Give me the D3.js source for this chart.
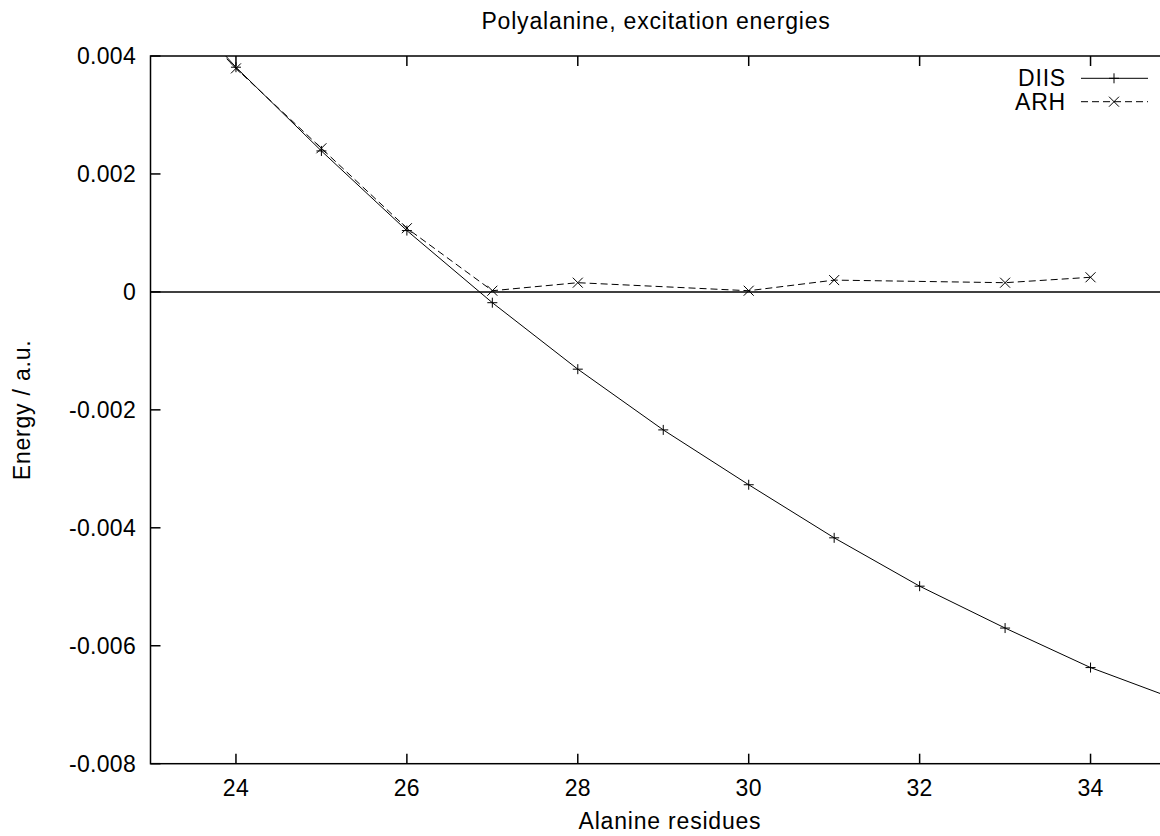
<!DOCTYPE html>
<html>
<head>
<meta charset="utf-8">
<script src="https://cdn.jsdelivr.net/npm/d3@7"></script>
<style>
  html, body { margin: 0; padding: 0; background: #fff; }
  svg { display: block; font-family: "Liberation Sans", Arial, sans-serif; }
  .word { letter-spacing: 0.8px; }
  .num { letter-spacing: 0.3px; }
</style>
</head>
<body>
<div id="chart"></div>
<script>
// Data
const diisResidues = [23, 24, 25, 26, 27, 28, 29, 30, 31, 32, 33, 34, 35];
const diisEnergy = [0.0054, 0.00381, 0.00239, 0.00104, -0.000183, -0.00131, -0.00234, -0.00327, -0.00417, -0.00499, -0.0057, -0.00637, -0.00691];

const arhResidues = [23, 24, 25, 26, 27, 28, 30, 31, 33, 34];
const arhEnergy = [0.0053, 0.00379, 0.002435, 0.00108, 0.00002, 0.000156, 0.00002, 0.0002, 0.000156, 0.000248];

const xTicks = [24, 26, 28, 30, 32, 34];
const yTicks = [0.004, 0.002, 0, -0.002, -0.004, -0.006, -0.008];
const yTickLabels = ["0.004", "0.002", "0", "-0.002", "-0.004", "-0.006", "-0.008"];

const width = 1160;
const height = 836;
const plotLeft = 150.5, plotRight = 1176, plotTop = 56, plotBottom = 763.7;
const tickLen = 10;
const fontSize = 23;

const svg = d3.select("#chart").append("svg").attr("width", width).attr("height", height);

const x = d3.scaleLinear().domain([23, 35]).range([plotLeft, plotRight]);
const y = d3.scaleLinear().domain([-0.008, 0.004]).range([plotBottom, plotTop]);

svg.append("clipPath").attr("id", "plot-clip")
  .append("rect").attr("x", plotLeft).attr("y", plotTop)
  .attr("width", plotRight - plotLeft).attr("height", plotBottom - plotTop);

// Title and axis labels
svg.append("text").attr("class", "word")
  .attr("x", 656).attr("y", 28.5)
  .attr("text-anchor", "middle").attr("font-size", fontSize)
  .text("Polyalanine, excitation energies");

svg.append("text").attr("class", "word")
  .attr("x", 670).attr("y", 829)
  .attr("text-anchor", "middle").attr("font-size", fontSize)
  .text("Alanine residues");

svg.append("text").attr("class", "word")
  .attr("transform", `translate(30,${(plotTop + plotBottom) / 2}) rotate(-90)`)
  .attr("text-anchor", "middle").attr("font-size", fontSize)
  .text("Energy / a.u.");

// Tick labels
svg.append("g").selectAll("text").data(xTicks).join("text").attr("class", "num")
  .attr("x", (d) => x(d)).attr("y", 796)
  .attr("text-anchor", "middle").attr("font-size", fontSize)
  .text((d) => d);

svg.append("g").selectAll("text").data(yTicks).join("text").attr("class", "num")
  .attr("x", 136).attr("y", (d) => y(d) + 8)
  .attr("text-anchor", "end").attr("font-size", fontSize)
  .text((d, i) => yTickLabels[i]);

// Ticks (inward, mirrored on top)
const ticks = svg.append("g").attr("stroke", "#000").attr("stroke-width", 1.5);
ticks.selectAll(".xb").data(xTicks).join("line")
  .attr("x1", (d) => x(d)).attr("x2", (d) => x(d))
  .attr("y1", plotBottom).attr("y2", plotBottom - tickLen);
ticks.selectAll(".xt").data(xTicks).join("line")
  .attr("x1", (d) => x(d)).attr("x2", (d) => x(d))
  .attr("y1", plotTop).attr("y2", plotTop + tickLen);
ticks.selectAll(".yl").data(yTicks).join("line")
  .attr("x1", plotLeft).attr("x2", plotLeft + tickLen)
  .attr("y1", (d) => y(d)).attr("y2", (d) => y(d));

// Zero axis
svg.append("line")
  .attr("x1", plotLeft).attr("x2", plotRight)
  .attr("y1", y(0)).attr("y2", y(0))
  .attr("stroke", "#000").attr("stroke-width", 1.5);

// Border
svg.append("rect")
  .attr("x", plotLeft).attr("y", plotTop)
  .attr("width", plotRight - plotLeft).attr("height", plotBottom - plotTop)
  .attr("fill", "none").attr("stroke", "#000").attr("stroke-width", 1.5);

const plot = svg.append("g").attr("clip-path", "url(#plot-clip)");

const line = d3.line().x((d) => x(d[0])).y((d) => y(d[1]));
const diis = diisResidues.map((r, i) => [r, diisEnergy[i]]);
const arh = arhResidues.map((r, i) => [r, arhEnergy[i]]);

plot.append("path").datum(diis).attr("d", line)
  .attr("fill", "none").attr("stroke", "#000").attr("stroke-width", 1);
plot.append("path").datum(arh).attr("d", line)
  .attr("fill", "none").attr("stroke", "#000").attr("stroke-width", 1)
  .attr("stroke-dasharray", "7,4");

const ms = 5;
function plus(g, cx, cy) {
  g.append("path").attr("d", `M${cx - ms},${cy}H${cx + ms}M${cx},${cy - ms}V${cy + ms}`)
    .attr("stroke", "#000").attr("stroke-width", 1).attr("fill", "none");
}
function cross(g, cx, cy) {
  g.append("path").attr("d", `M${cx - ms},${cy - ms}L${cx + ms},${cy + ms}M${cx - ms},${cy + ms}L${cx + ms},${cy - ms}`)
    .attr("stroke", "#000").attr("stroke-width", 1).attr("fill", "none");
}

diis.filter((d) => d[0] >= 24 && d[0] <= 34).forEach((d) => plus(plot, x(d[0]), y(d[1])));
arh.filter((d) => d[0] >= 24 && d[0] <= 34).forEach((d) => cross(plot, x(d[0]), y(d[1])));

// Legend
const legend = svg.append("g");
const legendItems = [
  { name: "DIIS", y: 78.3, dash: null, mark: plus },
  { name: "ARH", y: 101.7, dash: "7,4", mark: cross },
];
legendItems.forEach((item) => {
  legend.append("text").attr("class", "word")
    .attr("x", 1066).attr("y", item.y + 8)
    .attr("text-anchor", "end").attr("font-size", fontSize)
    .text(item.name);
  legend.append("line")
    .attr("x1", 1081).attr("x2", 1148)
    .attr("y1", item.y).attr("y2", item.y)
    .attr("stroke", "#000").attr("stroke-width", 1)
    .attr("stroke-dasharray", item.dash);
  item.mark(legend, 1114, item.y);
});
</script>
</body>
</html>
